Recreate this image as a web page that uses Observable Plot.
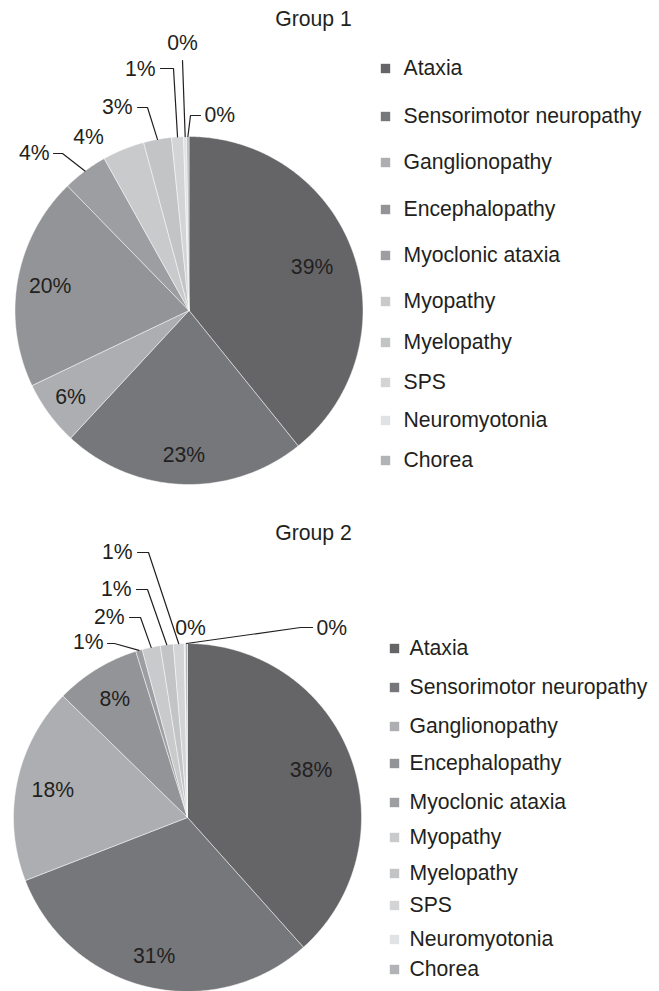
<!DOCTYPE html>
<html><head><meta charset="utf-8">
<script src="https://cdn.jsdelivr.net/npm/d3@7"></script>
<script src="https://cdn.jsdelivr.net/npm/@observablehq/plot@0.6"></script>
<style>html,body{margin:0;padding:0;background:#fff;} svg{display:block}</style>
</head><body><div id="chart"></div>
<script>
// ---- data ----
const categories = ["Ataxia","Sensorimotor neuropathy","Ganglionopathy","Encephalopathy","Myoclonic ataxia","Myopathy","Myelopathy","SPS","Neuromyotonia","Chorea"];
const groupTitles = ["Group 1","Group 2"];
const group1Values = [39.2, 22.7, 6.0, 19.8, 4.2, 3.9, 2.6, 1.1, 0.3, 0.2];
const group2Values = [38.4, 30.7, 18.2, 7.9, 0.6, 1.7, 1.2, 1.0, 0.1, 0.2];
const sliceColors = ["#656568","#76777b","#adaeb1","#939497","#9d9ea1","#c9cacc","#c3c4c6","#d3d4d6","#e1e2e3","#b2b3b6"];

// ---- layout (positions only) ----
const W = 659, H = 991;
const FONT = "Liberation Sans, Arial, Helvetica, sans-serif";
const FS = 21.2;
const layout = [
  {cx:188.5, cy:310, r:174, title:[313,19], legendSq:385, legendTx:403,
   legendY:[68,116,162,209,255,301,342,382,420,460],
   inner:{0:0.75, 1:0.83, 2:0.845, 3:0.81},
   callouts:{
     4:{pts:[[62,153],[53,153]], text:[49,153], anchor:"end"},
     5:{pts:[], text:[88,137], anchor:"middle"},
     6:{pts:[[147,107],[137,107]], text:[132,107], anchor:"end"},
     7:{pts:[[173,68],[160,68]], text:[155,69], anchor:"end"},
     8:{pts:[[182,60]], text:[182,43], anchor:"middle"},
     9:{pts:[[190,115],[200,115]], text:[204,115], anchor:"start"}
   }},
  {cx:187, cy:817, r:174, title:[313,533], legendSq:394, legendTx:409,
   legendY:[648,687,726,763,802,837,873,905,939,969],
   inner:{0:0.76, 1:0.82, 2:0.79, 3:0.80},
   callouts:{
     4:{pts:[[114,643],[107,643]], text:[103,642], anchor:"end"},
     5:{pts:[[140,617],[129,617]], text:[124,617], anchor:"end"},
     6:{pts:[[147,589],[136,589]], text:[131,589], anchor:"end"},
     7:{pts:[[148,552],[137,552]], text:[132,552], anchor:"end"},
     8:{pts:[], text:[190,628], anchor:"middle"},
     9:{pts:[[300,627],[312,627]], text:[316,628], anchor:"start"}
   }}
];

// ---- build geometry from data ----
const slicePts = [], innerLabels = [], outerLabels = [], leaders = [], legendRows = [], titles = [];
[group1Values, group2Values].forEach((vals, g) => {
  const L = layout[g];
  const total = d3.sum(vals);
  const pt = (a, rr) => [L.cx + rr * Math.sin(a), L.cy - rr * Math.cos(a)];
  let acc = 0;
  vals.forEach((v, i) => {
    const a0 = acc / total * 2 * Math.PI; acc += v; const a1 = acc / total * 2 * Math.PI;
    const key = g + "-" + i;
    slicePts.push({key, color: sliceColors[i], x: L.cx, y: L.cy});
    const n = Math.max(2, Math.ceil((a1 - a0) / (Math.PI / 360)));
    for (let k = 0; k <= n; k++) {
      const [x, y] = pt(a0 + (a1 - a0) * k / n, L.r);
      slicePts.push({key, color: sliceColors[i], x, y});
    }
    slicePts.push({key, color: sliceColors[i], x: L.cx, y: L.cy});
    const label = Math.round(v) + "%";
    const am = (a0 + a1) / 2;
    if (L.inner[i] !== undefined) {
      const [x, y] = pt(am, L.r * L.inner[i]);
      innerLabels.push({x, y, label});
    } else if (L.callouts[i]) {
      const c = L.callouts[i];
      outerLabels.push({x: c.text[0], y: c.text[1], label, anchor: c.anchor});
      if (c.pts.length) {
        const [ax, ay] = pt(am, L.r);
        leaders.push({key, x: ax, y: ay});
        c.pts.forEach(p => leaders.push({key, x: p[0], y: p[1]}));
      }
    }
    legendRows.push({x: L.legendSq, tx: L.legendTx, y: L.legendY[i], name: categories[i], color: sliceColors[i]});
  });
  titles.push({x: L.title[0], y: L.title[1], label: groupTitles[g]});
});

const textOpts = {fontSize: FS, fontFamily: FONT, fill: "#231f20"};
const chart = Plot.plot({
  width: W, height: H,
  margin: 0,
  x: {type: "linear", domain: [0, W], range: [0, W], axis: null},
  y: {type: "linear", domain: [0, H], range: [0, H], axis: null},
  color: {type: "identity"},
  style: {background: "#fff", fontFamily: FONT},
  marks: [
    Plot.line(slicePts, {x: "x", y: "y", z: "key", fill: "color", stroke: "#ffffff", strokeWidth: 0.6, strokeOpacity: 0.8, strokeLinejoin: "miter", curve: "linear"}),
    Plot.line(leaders, {x: "x", y: "y", z: "key", stroke: "#231f20", strokeWidth: 1.2, strokeLinejoin: "miter"}),
    Plot.text(innerLabels, {x: "x", y: "y", text: "label", ...textOpts}),
    Plot.text(outerLabels.filter(d => d.anchor === "end"), {x: "x", y: "y", text: "label", textAnchor: "end", ...textOpts}),
    Plot.text(outerLabels.filter(d => d.anchor === "middle"), {x: "x", y: "y", text: "label", textAnchor: "middle", ...textOpts}),
    Plot.text(outerLabels.filter(d => d.anchor === "start"), {x: "x", y: "y", text: "label", textAnchor: "start", ...textOpts}),
    Plot.text(titles, {x: "x", y: "y", text: "label", ...textOpts}),
    Plot.dot(legendRows, {x: "x", y: "y", symbol: "square", r: 5.3, fill: "color", stroke: null}),
    Plot.text(legendRows, {x: "tx", y: "y", text: "name", textAnchor: "start", ...textOpts})
  ]
});
document.getElementById("chart").append(chart);
</script>
</body></html>
